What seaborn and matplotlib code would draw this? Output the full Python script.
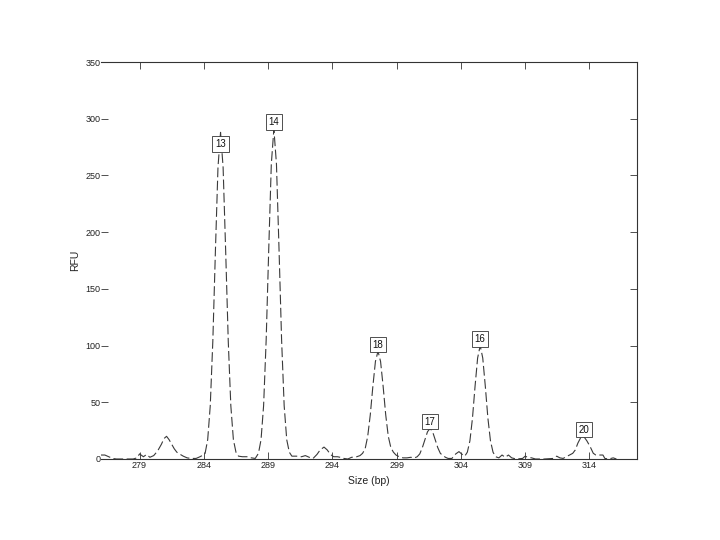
import numpy as np
import pandas as pd
import seaborn as sns
import matplotlib
matplotlib.use("Agg")
import matplotlib.pyplot as plt

# electropherogram trace (size in bp, signal in RFU)
size_bp = [276.0, 276.3, 276.6, 276.9, 277.2, 277.8, 278.5, 278.8, 279.0, 279.3,
           279.55, 279.8, 280.1, 280.4, 280.7, 280.9, 281.1, 281.3, 281.5, 281.7,
           281.9, 282.1, 282.4, 282.7, 283.0, 283.4, 283.7, 283.95, 284.1, 284.3,
           284.5, 284.7, 284.9, 285.1, 285.3, 285.5, 285.7, 285.9, 286.1, 286.3,
           286.5, 286.7, 287.0, 287.4, 287.7, 288.0, 288.25, 288.45, 288.65, 288.85,
           289.05, 289.25, 289.45, 289.65, 289.85, 290.05, 290.25, 290.45, 290.65, 290.85,
           291.2, 291.6, 291.9, 292.2, 292.5, 292.8, 293.05, 293.35, 293.6, 293.85,
           294.1, 294.4, 294.6, 294.9, 295.2, 295.5, 295.9, 296.15, 296.35, 296.55,
           296.75, 296.95, 297.15, 297.35, 297.55, 297.75, 297.95, 298.15, 298.35, 298.55,
           298.75, 298.95, 299.2, 299.5, 299.8, 300.1, 300.4, 300.6, 300.8, 301.0,
           301.2, 301.4, 301.6, 301.8, 302.0, 302.2, 302.4, 302.6, 302.8, 303.0,
           303.3, 303.6, 303.85, 304.05, 304.3, 304.5, 304.7, 304.9, 305.1, 305.3,
           305.5, 305.7, 305.9, 306.1, 306.3, 306.5, 306.7, 306.95, 307.2, 307.45,
           307.7, 307.95, 308.3, 308.8, 309.0, 309.2, 309.5, 309.8, 310.5, 311.2,
           311.45, 311.7, 311.95, 312.2, 312.45, 312.7, 312.9, 313.1, 313.35, 313.55,
           313.8, 314.05, 314.3, 314.5, 314.8, 315.05, 315.2, 315.5, 315.85, 316.1]
rfu = [3.5, 3.5, 2, 0.5, 0, 0, 0, 1, 4.5, 2,
       4, 1.5, 3, 7, 13, 18, 20, 17, 13, 9,
       6, 4.5, 2.5, 1, 0.5, 0.5, 2, 3.5, 5, 17,
       47, 104, 183, 257, 288, 257, 183, 104, 47, 17,
       6, 2.5, 2, 2, 1, 0.5, 5, 17, 47, 105,
       185, 260, 291, 260, 185, 105, 47, 17, 6, 2.5,
       2.5, 2, 3, 1.5, 0.5, 4, 8, 10.5, 8, 4,
       2, 2, 1.5, 0.5, 0, 1.5, 2, 3, 5, 9,
       20, 39, 64, 86, 95, 86, 64, 39, 20, 10,
       6, 3.5, 2, 1, 1, 1.5, 1, 2, 4.5, 10,
       17, 24, 27, 24, 17, 10, 5, 3, 1.5, 0.5,
       0.5, 4.5, 6.5, 4.5, 2.5, 6, 16, 36, 64, 89,
       100, 89, 64, 36, 16, 6, 2, 1, 3.5, 1.5,
       3.5, 1, 0, 0.5, 2.5, 1.5, 1, 0, 0, 0.5,
       2.5, 1, 0.5, 2, 3.5, 5, 8, 14, 19.5, 20,
       16, 11, 5, 3.5, 3.5, 3.5, 0.5, 0, 1, 0]

# allele calls
allele_names = ["13", "14", "18", "17", "16", "20"]
allele_sizes = [285.3, 289.45, 297.55, 301.6, 305.5, 313.55]

x_ticks = [279, 284, 289, 294, 299, 304, 309, 314]
y_ticks = [0, 50, 100, 150, 200, 250, 300, 350]

sns.set_style("white")
plt.rcParams["font.family"] = ["Liberation Sans", "DejaVu Sans"]
plt.rcParams["lines.scale_dashes"] = False

trace = pd.DataFrame({"size": size_bp, "rfu": rfu})

fig = plt.figure(figsize=(7.2, 5.4), dpi=100)
ax = fig.add_axes([101 / 720, 81 / 540, 536 / 720, 397 / 540])

sns.lineplot(data=trace, x="size", y="rfu", ax=ax, sort=False, errorbar=None,
             color="#3a3a3a", linewidth=0.8, linestyle=(0, (7, 2.5)))

# boxed allele labels sitting on the peaks
for name, pos in zip(allele_names, allele_sizes):
    near = trace[(trace["size"] > pos - 0.5) & (trace["size"] < pos + 0.5)]
    top = near["rfu"].max()
    if name == "13":
        y, va = top - 6, "top"
    else:
        y, va = top + 1.5, "bottom"
    ax.text(pos, y, name, ha="center", va=va, fontsize=7, color="#111111",
            bbox=dict(boxstyle="square,pad=0.28", facecolor="white",
                      edgecolor="#333333", linewidth=0.6))

ax.set_xlim(276.0, 317.7)
ax.set_ylim(0, 350)
ax.set_xticks(x_ticks)
ax.set_yticks(y_ticks)
ax.tick_params(direction="in", length=5, width=0.6, color="#333333",
               labelsize=6.5, labelcolor="#222222", pad=1.5,
               top=True, right=True, bottom=True, left=True)
ax.tick_params(axis="y", pad=0.3)
for side in ["top", "right", "bottom"]:
    ax.spines[side].set_color("#333333")
    ax.spines[side].set_linewidth(0.8)
ax.spines["left"].set_visible(False)

ax.set_xlabel("Size (bp)", fontsize=7.5, labelpad=4, color="#222222")
ax.set_ylabel("RFU", fontsize=7.5, labelpad=4, color="#222222")

fig.savefig("out.png", dpi=100)
